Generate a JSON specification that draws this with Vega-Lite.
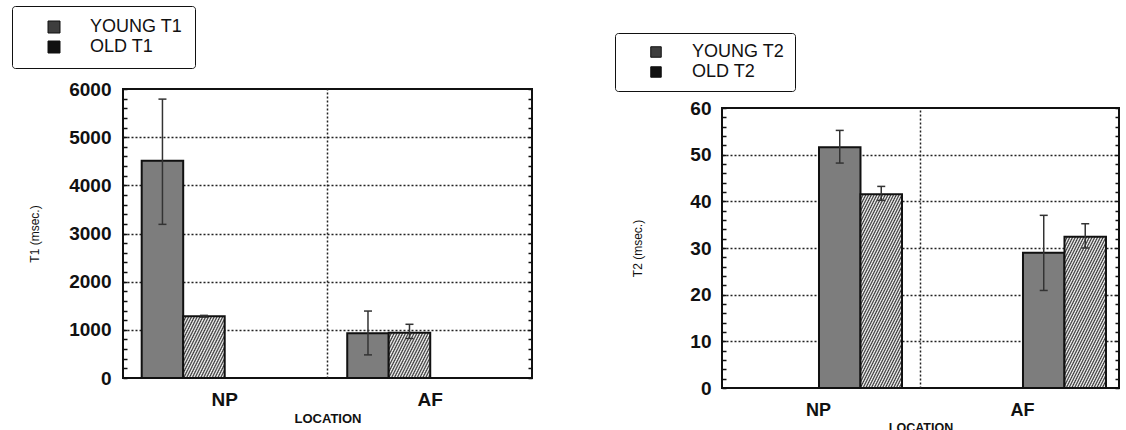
{
  "$schema": "https://vega.github.io/schema/vega-lite/v6.json",
  "background": "white",
  "padding": {"left": 10, "top": 4, "right": 0, "bottom": 0},
  "spacing": 79,
  "resolve": {"scale": {"fill": "independent"}, "legend": {"fill": "independent"}},
  "config": {
    "font": "Liberation Sans",
    "view": {"stroke": "#111", "strokeWidth": 2},
    "axis": {"labelColor": "#111", "titleColor": "#111"}
  },
  "hconcat": [
    {
      "resolve": {"scale": {"fill": "independent"}, "legend": {"fill": "independent"}},
      "vconcat": [
        {
          "width": 409,
          "height": 289,
          "data": {"values": [
            {"location": "NP", "group": "YOUNG T1", "mean": 4510, "low": 3190, "high": 5790},
            {"location": "NP", "group": "OLD T1", "mean": 1280, "low": 1265, "high": 1300},
            {"location": "AF", "group": "YOUNG T1", "mean": 930, "low": 480, "high": 1390},
            {"location": "AF", "group": "OLD T1", "mean": 940, "low": 820, "high": 1115}
          ]},
          "layer": [
            {
              "mark": {"type": "bar", "stroke": "#111", "strokeWidth": 2},
              "encoding": {
                "x": {"field": "location", "type": "nominal",
                  "scale": {"domain": ["NP", "AF"], "paddingInner": 0.192, "paddingOuter": 0.091},
                  "axis": {"orient": "bottom", "labelAngle": 0, "labelFontSize": 19, "labelFontWeight": "bold", "labelPadding": 12, "ticks": false, "domain": false, "grid": false,
                    "title": "LOCATION", "titleFontSize": 13, "titleFontWeight": "bold", "titlePadding": 3}},
                "xOffset": {"field": "group", "type": "nominal", "scale": {"domain": ["YOUNG T1", "OLD T1"], "range": [0, 166], "paddingInner": 0, "paddingOuter": 0}},
                "y": {"field": "mean", "type": "quantitative", "scale": {"domain": [0, 6000], "nice": false},
                  "axis": {"values": [0,200,400,600,800,1000,1200,1400,1600,1800,2000,2200,2400,2600,2800,3000,3200,3400,3600,3800,4000,4200,4400,4600,4800,5000,5200,5400,5600,5800,6000],
                    "format": "d", "labelExpr": "datum.value % 1000 === 0 ? datum.label : ''", "labelOverlap": false,
                    "labelFontSize": 19, "labelFontWeight": "bold", "labelPadding": 16,
                    "tickSize": -4, "tickWidth": 1.5, "tickColor": "#111", "domain": false,
                    "grid": true, "gridDash": [2, 2], "gridWidth": 1.5, "gridColor": "#222",
                    "gridOpacity": {"condition": {"test": "datum.value % 1000 === 0 && datum.value > 0 && datum.value < 6000", "value": 1}, "value": 0},
                    "title": "T1 (msec.)", "titleFontSize": 12, "titleFontWeight": "normal", "titlePadding": 27}},
                "fill": {"field": "group", "type": "nominal",
                  "scale": {"domain": ["YOUNG T1", "OLD T1"], "range": ["#3e3e3e", "#111111"]},
                  "legend": {"orient": "none", "legendX": -111, "legendY": -83, "title": null, "direction": "vertical",
                    "padding": 12, "strokeColor": "#111", "fillColor": "white", "cornerRadius": 3,
                    "labelFontSize": 18, "labelColor": "#111", "labelOffset": 27, "symbolOffset": 21,
                    "symbolType": "square", "symbolSize": 144, "symbolStrokeColor": "#111", "symbolStrokeWidth": 1, "rowPadding": 2},
                  "condition": [
                    {"test": "datum.group === 'YOUNG T1'", "value": "#7d7d7d"},
                    {"test": "datum.group === 'OLD T1' && datum.location === 'NP'", "value": {"gradient": "linear", "x1": 0, "y1": 0, "x2": 1.1025, "y2": 0.8189, "stops": [{"offset":0,"color":"#333"},{"offset":0.02,"color":"#fff"},{"offset":0.04,"color":"#333"},{"offset":0.06,"color":"#fff"},{"offset":0.08,"color":"#333"},{"offset":0.1,"color":"#fff"},{"offset":0.12,"color":"#333"},{"offset":0.14,"color":"#fff"},{"offset":0.16,"color":"#333"},{"offset":0.18,"color":"#fff"},{"offset":0.2,"color":"#333"},{"offset":0.22,"color":"#fff"},{"offset":0.24,"color":"#333"},{"offset":0.26,"color":"#fff"},{"offset":0.28,"color":"#333"},{"offset":0.3,"color":"#fff"},{"offset":0.32,"color":"#333"},{"offset":0.34,"color":"#fff"},{"offset":0.36,"color":"#333"},{"offset":0.38,"color":"#fff"},{"offset":0.4,"color":"#333"},{"offset":0.42,"color":"#fff"},{"offset":0.44,"color":"#333"},{"offset":0.46,"color":"#fff"},{"offset":0.48,"color":"#333"},{"offset":0.5,"color":"#fff"},{"offset":0.52,"color":"#333"},{"offset":0.54,"color":"#fff"},{"offset":0.56,"color":"#333"},{"offset":0.58,"color":"#fff"},{"offset":0.6,"color":"#333"},{"offset":0.62,"color":"#fff"},{"offset":0.64,"color":"#333"},{"offset":0.66,"color":"#fff"},{"offset":0.68,"color":"#333"},{"offset":0.7,"color":"#fff"},{"offset":0.72,"color":"#333"},{"offset":0.74,"color":"#fff"},{"offset":0.76,"color":"#333"},{"offset":0.78,"color":"#fff"},{"offset":0.8,"color":"#333"},{"offset":0.82,"color":"#fff"},{"offset":0.84,"color":"#333"},{"offset":0.86,"color":"#fff"},{"offset":0.88,"color":"#333"},{"offset":0.9,"color":"#fff"},{"offset":0.92,"color":"#333"},{"offset":0.94,"color":"#fff"},{"offset":0.96,"color":"#333"},{"offset":0.98,"color":"#fff"},{"offset":1,"color":"#333"}]}},
                    {"test": "datum.group === 'OLD T1' && datum.location === 'AF'", "value": {"gradient": "linear", "x1": 0, "y1": 0, "x2": 1.312, "y2": 0.7234, "stops": [{"offset":0,"color":"#333"},{"offset":0.02,"color":"#fff"},{"offset":0.04,"color":"#333"},{"offset":0.06,"color":"#fff"},{"offset":0.08,"color":"#333"},{"offset":0.1,"color":"#fff"},{"offset":0.12,"color":"#333"},{"offset":0.14,"color":"#fff"},{"offset":0.16,"color":"#333"},{"offset":0.18,"color":"#fff"},{"offset":0.2,"color":"#333"},{"offset":0.22,"color":"#fff"},{"offset":0.24,"color":"#333"},{"offset":0.26,"color":"#fff"},{"offset":0.28,"color":"#333"},{"offset":0.3,"color":"#fff"},{"offset":0.32,"color":"#333"},{"offset":0.34,"color":"#fff"},{"offset":0.36,"color":"#333"},{"offset":0.38,"color":"#fff"},{"offset":0.4,"color":"#333"},{"offset":0.42,"color":"#fff"},{"offset":0.44,"color":"#333"},{"offset":0.46,"color":"#fff"},{"offset":0.48,"color":"#333"},{"offset":0.5,"color":"#fff"},{"offset":0.52,"color":"#333"},{"offset":0.54,"color":"#fff"},{"offset":0.56,"color":"#333"},{"offset":0.58,"color":"#fff"},{"offset":0.6,"color":"#333"},{"offset":0.62,"color":"#fff"},{"offset":0.64,"color":"#333"},{"offset":0.66,"color":"#fff"},{"offset":0.68,"color":"#333"},{"offset":0.7,"color":"#fff"},{"offset":0.72,"color":"#333"},{"offset":0.74,"color":"#fff"},{"offset":0.76,"color":"#333"},{"offset":0.78,"color":"#fff"},{"offset":0.8,"color":"#333"},{"offset":0.82,"color":"#fff"},{"offset":0.84,"color":"#333"},{"offset":0.86,"color":"#fff"},{"offset":0.88,"color":"#333"},{"offset":0.9,"color":"#fff"},{"offset":0.92,"color":"#333"},{"offset":0.94,"color":"#fff"},{"offset":0.96,"color":"#333"},{"offset":0.98,"color":"#fff"},{"offset":1,"color":"#333"}]}}
                  ]}
              }
            },
            {
              "mark": {"type": "rule", "color": "#333", "strokeWidth": 1.5},
              "encoding": {
                "x": {"field": "location", "type": "nominal", "scale": {"domain": ["NP", "AF"], "paddingInner": 0.192, "paddingOuter": 0.091},
                  "axis": {"orient": "top", "bandPosition": 1.119, "labels": false, "ticks": false, "domain": false, "title": null,
                    "grid": true, "gridDash": [2, 2], "gridWidth": 1.5, "gridColor": "#222",
                    "gridOpacity": {"condition": {"test": "datum.value === 'NP'", "value": 1}, "value": 0}}},
                "xOffset": {"field": "group", "type": "nominal", "scale": {"domain": ["YOUNG T1", "OLD T1"], "range": [0, 166], "paddingInner": 0, "paddingOuter": 0}},
                "y": {"field": "low", "type": "quantitative",
                  "axis": {"orient": "right", "values": [0,200,400,600,800,1000,1200,1400,1600,1800,2000,2200,2400,2600,2800,3000,3200,3400,3600,3800,4000,4200,4400,4600,4800,5000,5200,5400,5600,5800,6000],
                    "labels": false, "tickSize": -4, "tickWidth": 1.5, "tickColor": "#111", "domain": false, "grid": false, "title": null, "zindex": 1}},
                "y2": {"field": "high"}
              }
            },
            {
              "mark": {"type": "point", "shape": "M -1 0 L 1 0", "size": 64, "filled": false, "stroke": "#333", "strokeWidth": 1.5, "opacity": 1},
              "encoding": {
                "x": {"field": "location", "type": "nominal", "scale": {"domain": ["NP", "AF"], "paddingInner": 0.192, "paddingOuter": 0.091}, "axis": null},
                "xOffset": {"field": "group", "type": "nominal", "scale": {"domain": ["YOUNG T1", "OLD T1"], "range": [0, 166], "paddingInner": 0, "paddingOuter": 0}},
                "y": {"field": "low", "type": "quantitative", "axis": null}
              }
            },
            {
              "mark": {"type": "point", "shape": "M -1 0 L 1 0", "size": 64, "filled": false, "stroke": "#333", "strokeWidth": 1.5, "opacity": 1},
              "encoding": {
                "x": {"field": "location", "type": "nominal", "scale": {"domain": ["NP", "AF"], "paddingInner": 0.192, "paddingOuter": 0.091}, "axis": null},
                "xOffset": {"field": "group", "type": "nominal", "scale": {"domain": ["YOUNG T1", "OLD T1"], "range": [0, 166], "paddingInner": 0, "paddingOuter": 0}},
                "y": {"field": "high", "type": "quantitative", "axis": null}
              }
            }
          ],
          "resolve": {"axis": {"x": "independent", "y": "independent"}}
        }
      ]
    },
    {
      "spacing": -62,
      "resolve": {"scale": {"fill": "independent"}, "legend": {"fill": "independent"}},
      "vconcat": [
        {
          "width": 10,
          "height": 1,
          "view": {"stroke": null},
          "data": {"values": [{}]},
          "mark": {"type": "point", "opacity": 0},
          "encoding": {}
        },
        {
          "width": 397,
          "height": 280,
          "data": {"values": [
            {"location": "NP", "group": "YOUNG T2", "mean": 51.6, "low": 48.2, "high": 55.2},
            {"location": "NP", "group": "OLD T2", "mean": 41.5, "low": 40.2, "high": 43.2},
            {"location": "AF", "group": "YOUNG T2", "mean": 29.0, "low": 20.9, "high": 37.0},
            {"location": "AF", "group": "OLD T2", "mean": 32.4, "low": 30.0, "high": 35.2}
          ]},
          "layer": [
            {
              "mark": {"type": "bar", "stroke": "#111", "strokeWidth": 2},
              "encoding": {
                "x": {"field": "location", "type": "nominal",
                  "scale": {"domain": ["NP", "AF"], "paddingInner": 0.191, "paddingOuter": 0.0686},
                  "axis": {"orient": "bottom", "labelAngle": 0, "labelFontSize": 18, "labelFontWeight": "bold", "labelPadding": 13, "ticks": false, "domain": false, "grid": false,
                    "title": "LOCATION", "titleFontSize": 12.5, "titleFontWeight": "bold", "titlePadding": 2}},
                "xOffset": {"field": "group", "type": "nominal", "scale": {"domain": ["YOUNG T2", "OLD T2"], "range": [0, 165], "paddingInner": 0, "paddingOuter": 0}},
                "y": {"field": "mean", "type": "quantitative", "scale": {"domain": [0, 60], "nice": false},
                  "axis": {"values": [0,2,4,6,8,10,12,14,16,18,20,22,24,26,28,30,32,34,36,38,40,42,44,46,48,50,52,54,56,58,60],
                    "format": "d", "labelExpr": "datum.value % 10 === 0 ? datum.label : ''", "labelOverlap": false,
                    "labelFontSize": 19, "labelFontWeight": "bold", "labelPadding": 15,
                    "tickSize": -4, "tickWidth": 1.5, "tickColor": "#111", "domain": false,
                    "grid": true, "gridDash": [2, 2], "gridWidth": 1.5, "gridColor": "#222",
                    "gridOpacity": {"condition": {"test": "datum.value % 10 === 0 && datum.value > 0 && datum.value < 60", "value": 1}, "value": 0},
                    "title": "T2 (msec.)", "titleFontSize": 12, "titleFontWeight": "normal", "titlePadding": 45}},
                "fill": {"field": "group", "type": "nominal",
                  "scale": {"domain": ["YOUNG T2", "OLD T2"], "range": ["#3e3e3e", "#111111"]},
                  "legend": {"orient": "none", "legendX": -107, "legendY": -75, "title": null, "direction": "vertical",
                    "padding": 10, "strokeColor": "#111", "fillColor": "white", "cornerRadius": 3,
                    "labelFontSize": 18, "labelColor": "#111", "labelOffset": 27, "symbolOffset": 22,
                    "symbolType": "square", "symbolSize": 110, "symbolStrokeColor": "#111", "symbolStrokeWidth": 1, "rowPadding": 2},
                  "condition": [
                    {"test": "datum.group === 'YOUNG T2'", "value": "#7d7d7d"},
                    {"test": "datum.group === 'OLD T2' && datum.location === 'NP'", "value": {"gradient": "linear", "x1": 0, "y1": 0, "x2": 0.5137, "y2": 1.2061, "stops": [{"offset":0,"color":"#333"},{"offset":0.01,"color":"#fff"},{"offset":0.02,"color":"#333"},{"offset":0.03,"color":"#fff"},{"offset":0.04,"color":"#333"},{"offset":0.05,"color":"#fff"},{"offset":0.06,"color":"#333"},{"offset":0.07,"color":"#fff"},{"offset":0.08,"color":"#333"},{"offset":0.09,"color":"#fff"},{"offset":0.1,"color":"#333"},{"offset":0.11,"color":"#fff"},{"offset":0.12,"color":"#333"},{"offset":0.13,"color":"#fff"},{"offset":0.14,"color":"#333"},{"offset":0.15,"color":"#fff"},{"offset":0.16,"color":"#333"},{"offset":0.17,"color":"#fff"},{"offset":0.18,"color":"#333"},{"offset":0.19,"color":"#fff"},{"offset":0.2,"color":"#333"},{"offset":0.21,"color":"#fff"},{"offset":0.22,"color":"#333"},{"offset":0.23,"color":"#fff"},{"offset":0.24,"color":"#333"},{"offset":0.25,"color":"#fff"},{"offset":0.26,"color":"#333"},{"offset":0.27,"color":"#fff"},{"offset":0.28,"color":"#333"},{"offset":0.29,"color":"#fff"},{"offset":0.3,"color":"#333"},{"offset":0.31,"color":"#fff"},{"offset":0.32,"color":"#333"},{"offset":0.33,"color":"#fff"},{"offset":0.34,"color":"#333"},{"offset":0.35,"color":"#fff"},{"offset":0.36,"color":"#333"},{"offset":0.37,"color":"#fff"},{"offset":0.38,"color":"#333"},{"offset":0.39,"color":"#fff"},{"offset":0.4,"color":"#333"},{"offset":0.41,"color":"#fff"},{"offset":0.42,"color":"#333"},{"offset":0.43,"color":"#fff"},{"offset":0.44,"color":"#333"},{"offset":0.45,"color":"#fff"},{"offset":0.46,"color":"#333"},{"offset":0.47,"color":"#fff"},{"offset":0.48,"color":"#333"},{"offset":0.49,"color":"#fff"},{"offset":0.5,"color":"#333"},{"offset":0.51,"color":"#fff"},{"offset":0.52,"color":"#333"},{"offset":0.53,"color":"#fff"},{"offset":0.54,"color":"#333"},{"offset":0.55,"color":"#fff"},{"offset":0.56,"color":"#333"},{"offset":0.57,"color":"#fff"},{"offset":0.58,"color":"#333"},{"offset":0.59,"color":"#fff"},{"offset":0.6,"color":"#333"},{"offset":0.61,"color":"#fff"},{"offset":0.62,"color":"#333"},{"offset":0.63,"color":"#fff"},{"offset":0.64,"color":"#333"},{"offset":0.65,"color":"#fff"},{"offset":0.66,"color":"#333"},{"offset":0.67,"color":"#fff"},{"offset":0.68,"color":"#333"},{"offset":0.69,"color":"#fff"},{"offset":0.7,"color":"#333"},{"offset":0.71,"color":"#fff"},{"offset":0.72,"color":"#333"},{"offset":0.73,"color":"#fff"},{"offset":0.74,"color":"#333"},{"offset":0.75,"color":"#fff"},{"offset":0.76,"color":"#333"},{"offset":0.77,"color":"#fff"},{"offset":0.78,"color":"#333"},{"offset":0.79,"color":"#fff"},{"offset":0.8,"color":"#333"},{"offset":0.81,"color":"#fff"},{"offset":0.82,"color":"#333"},{"offset":0.83,"color":"#fff"},{"offset":0.84,"color":"#333"},{"offset":0.85,"color":"#fff"},{"offset":0.86,"color":"#333"},{"offset":0.87,"color":"#fff"},{"offset":0.88,"color":"#333"},{"offset":0.89,"color":"#fff"},{"offset":0.9,"color":"#333"},{"offset":0.91,"color":"#fff"},{"offset":0.92,"color":"#333"},{"offset":0.93,"color":"#fff"},{"offset":0.94,"color":"#333"},{"offset":0.95,"color":"#fff"},{"offset":0.96,"color":"#333"},{"offset":0.97,"color":"#fff"},{"offset":0.98,"color":"#333"},{"offset":0.99,"color":"#fff"},{"offset":1,"color":"#333"}]}},
                    {"test": "datum.group === 'OLD T2' && datum.location === 'AF'", "value": {"gradient": "linear", "x1": 0, "y1": 0, "x2": 0.7675, "y2": 1.4067, "stops": [{"offset":0,"color":"#333"},{"offset":0.01,"color":"#fff"},{"offset":0.02,"color":"#333"},{"offset":0.03,"color":"#fff"},{"offset":0.04,"color":"#333"},{"offset":0.05,"color":"#fff"},{"offset":0.06,"color":"#333"},{"offset":0.07,"color":"#fff"},{"offset":0.08,"color":"#333"},{"offset":0.09,"color":"#fff"},{"offset":0.1,"color":"#333"},{"offset":0.11,"color":"#fff"},{"offset":0.12,"color":"#333"},{"offset":0.13,"color":"#fff"},{"offset":0.14,"color":"#333"},{"offset":0.15,"color":"#fff"},{"offset":0.16,"color":"#333"},{"offset":0.17,"color":"#fff"},{"offset":0.18,"color":"#333"},{"offset":0.19,"color":"#fff"},{"offset":0.2,"color":"#333"},{"offset":0.21,"color":"#fff"},{"offset":0.22,"color":"#333"},{"offset":0.23,"color":"#fff"},{"offset":0.24,"color":"#333"},{"offset":0.25,"color":"#fff"},{"offset":0.26,"color":"#333"},{"offset":0.27,"color":"#fff"},{"offset":0.28,"color":"#333"},{"offset":0.29,"color":"#fff"},{"offset":0.3,"color":"#333"},{"offset":0.31,"color":"#fff"},{"offset":0.32,"color":"#333"},{"offset":0.33,"color":"#fff"},{"offset":0.34,"color":"#333"},{"offset":0.35,"color":"#fff"},{"offset":0.36,"color":"#333"},{"offset":0.37,"color":"#fff"},{"offset":0.38,"color":"#333"},{"offset":0.39,"color":"#fff"},{"offset":0.4,"color":"#333"},{"offset":0.41,"color":"#fff"},{"offset":0.42,"color":"#333"},{"offset":0.43,"color":"#fff"},{"offset":0.44,"color":"#333"},{"offset":0.45,"color":"#fff"},{"offset":0.46,"color":"#333"},{"offset":0.47,"color":"#fff"},{"offset":0.48,"color":"#333"},{"offset":0.49,"color":"#fff"},{"offset":0.5,"color":"#333"},{"offset":0.51,"color":"#fff"},{"offset":0.52,"color":"#333"},{"offset":0.53,"color":"#fff"},{"offset":0.54,"color":"#333"},{"offset":0.55,"color":"#fff"},{"offset":0.56,"color":"#333"},{"offset":0.57,"color":"#fff"},{"offset":0.58,"color":"#333"},{"offset":0.59,"color":"#fff"},{"offset":0.6,"color":"#333"},{"offset":0.61,"color":"#fff"},{"offset":0.62,"color":"#333"},{"offset":0.63,"color":"#fff"},{"offset":0.64,"color":"#333"},{"offset":0.65,"color":"#fff"},{"offset":0.66,"color":"#333"},{"offset":0.67,"color":"#fff"},{"offset":0.68,"color":"#333"},{"offset":0.69,"color":"#fff"},{"offset":0.7,"color":"#333"},{"offset":0.71,"color":"#fff"},{"offset":0.72,"color":"#333"},{"offset":0.73,"color":"#fff"},{"offset":0.74,"color":"#333"},{"offset":0.75,"color":"#fff"},{"offset":0.76,"color":"#333"},{"offset":0.77,"color":"#fff"},{"offset":0.78,"color":"#333"},{"offset":0.79,"color":"#fff"},{"offset":0.8,"color":"#333"},{"offset":0.81,"color":"#fff"},{"offset":0.82,"color":"#333"},{"offset":0.83,"color":"#fff"},{"offset":0.84,"color":"#333"},{"offset":0.85,"color":"#fff"},{"offset":0.86,"color":"#333"},{"offset":0.87,"color":"#fff"},{"offset":0.88,"color":"#333"},{"offset":0.89,"color":"#fff"},{"offset":0.9,"color":"#333"},{"offset":0.91,"color":"#fff"},{"offset":0.92,"color":"#333"},{"offset":0.93,"color":"#fff"},{"offset":0.94,"color":"#333"},{"offset":0.95,"color":"#fff"},{"offset":0.96,"color":"#333"},{"offset":0.97,"color":"#fff"},{"offset":0.98,"color":"#333"},{"offset":0.99,"color":"#fff"},{"offset":1,"color":"#333"}]}}
                  ]}
              }
            },
            {
              "mark": {"type": "rule", "color": "#333", "strokeWidth": 1.5},
              "encoding": {
                "x": {"field": "location", "type": "nominal", "scale": {"domain": ["NP", "AF"], "paddingInner": 0.191, "paddingOuter": 0.0686},
                  "axis": {"orient": "top", "bandPosition": 1.118, "labels": false, "ticks": false, "domain": false, "title": null,
                    "grid": true, "gridDash": [2, 2], "gridWidth": 1.5, "gridColor": "#222",
                    "gridOpacity": {"condition": {"test": "datum.value === 'NP'", "value": 1}, "value": 0}}},
                "xOffset": {"field": "group", "type": "nominal", "scale": {"domain": ["YOUNG T2", "OLD T2"], "range": [0, 165], "paddingInner": 0, "paddingOuter": 0}},
                "y": {"field": "low", "type": "quantitative",
                  "axis": {"orient": "right", "values": [0,2,4,6,8,10,12,14,16,18,20,22,24,26,28,30,32,34,36,38,40,42,44,46,48,50,52,54,56,58,60],
                    "labels": false, "tickSize": -4, "tickWidth": 1.5, "tickColor": "#111", "domain": false, "grid": false, "title": null, "zindex": 1}},
                "y2": {"field": "high"}
              }
            },
            {
              "mark": {"type": "point", "shape": "M -1 0 L 1 0", "size": 64, "filled": false, "stroke": "#333", "strokeWidth": 1.5, "opacity": 1},
              "encoding": {
                "x": {"field": "location", "type": "nominal", "scale": {"domain": ["NP", "AF"], "paddingInner": 0.191, "paddingOuter": 0.0686}, "axis": null},
                "xOffset": {"field": "group", "type": "nominal", "scale": {"domain": ["YOUNG T2", "OLD T2"], "range": [0, 165], "paddingInner": 0, "paddingOuter": 0}},
                "y": {"field": "low", "type": "quantitative", "axis": null}
              }
            },
            {
              "mark": {"type": "point", "shape": "M -1 0 L 1 0", "size": 64, "filled": false, "stroke": "#333", "strokeWidth": 1.5, "opacity": 1},
              "encoding": {
                "x": {"field": "location", "type": "nominal", "scale": {"domain": ["NP", "AF"], "paddingInner": 0.191, "paddingOuter": 0.0686}, "axis": null},
                "xOffset": {"field": "group", "type": "nominal", "scale": {"domain": ["YOUNG T2", "OLD T2"], "range": [0, 165], "paddingInner": 0, "paddingOuter": 0}},
                "y": {"field": "high", "type": "quantitative", "axis": null}
              }
            }
          ],
          "resolve": {"axis": {"x": "independent", "y": "independent"}}
        }
      ]
    }
  ]
}
